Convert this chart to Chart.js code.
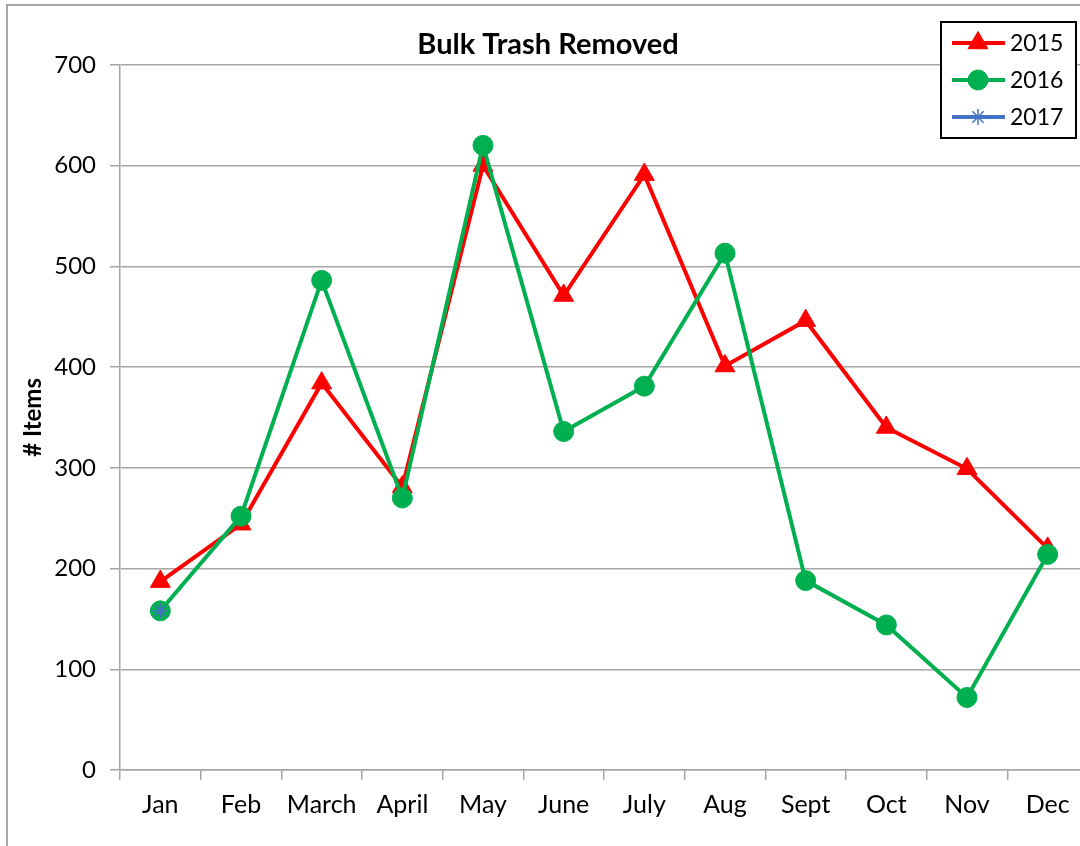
<!DOCTYPE html>
<html>
<head>
<meta charset="utf-8">
<script src="https://cdn.jsdelivr.net/npm/chart.js@4/dist/chart.umd.min.js"></script>
<style>
    html, body { margin: 0; padding: 0; background: #fff; overflow: hidden; width: 1080px; height: 846px; }
    #frame { position: absolute; left: 6px; top: 4px; width: 1084px; height: 880px; border: 2px solid #a6a6a6; background: #fff; }
    #frame canvas { display: block; }
</style>
</head>
<body>
<div id="frame"><canvas id="trashChart" width="1084" height="880"></canvas></div>
<script>
const months = ['Jan', 'Feb', 'March', 'April', 'May', 'June', 'July', 'Aug', 'Sept', 'Oct', 'Nov', 'Dec'];
const items2015 = [187, 244, 384, 281, 600, 471, 591, 401, 446, 340, 299, 220];
const items2016 = [158, 252, 486, 270, 620, 336, 381, 513, 188, 144, 72, 214];
const items2017 = [158, null, null, null, null, null, null, null, null, null, null, null];
const yTicks = [0, 100, 200, 300, 400, 500, 600, 700];

const FONT = 'Lato, "Open Sans", "Liberation Sans", sans-serif';
const GRID = '#a6a6a6';

// boxed legend in the top right corner, like the Excel one
const boxLegend = {
    id: 'boxLegend',
    afterDraw(chart) {
        const ctx = chart.ctx;
        const x0 = 933, y0 = 16, w = 135, h = 116;
        ctx.save();
        ctx.fillStyle = '#fff';
        ctx.fillRect(x0, y0, w, h);
        ctx.strokeStyle = '#000';
        ctx.lineWidth = 2;
        ctx.strokeRect(x0, y0, w, h);
        chart.data.datasets.forEach((ds, i) => {
            const y = y0 + 21 + i * 37;
            ctx.strokeStyle = ds.borderColor;
            ctx.lineWidth = 4;
            ctx.beginPath();
            ctx.moveTo(944, y);
            ctx.lineTo(997, y);
            ctx.stroke();
            ctx.fillStyle = ds.pointBackgroundColor;
            ctx.strokeStyle = ds.pointBorderColor;
            ctx.lineWidth = ds.pointBorderWidth;
            Chart.helpers.drawPoint(ctx, {
                pointStyle: ds.pointStyle,
                radius: ds.pointRadius,
                rotation: 0,
                borderWidth: ds.pointBorderWidth
            }, 970, y);
            ctx.fillStyle = '#000';
            ctx.font = '23px ' + FONT;
            ctx.textAlign = 'left';
            ctx.textBaseline = 'middle';
            ctx.fillText(ds.label, 1002, y + 1);
        });
        ctx.restore();
    }
};

new Chart(document.getElementById('trashChart'), {
    type: 'line',
    data: {
        labels: months,
        datasets: [
            {
                label: '2015', data: items2015, order: 3,
                borderColor: '#ff0000', borderWidth: 4,
                pointStyle: 'triangle', pointRadius: 11.5,
                pointBackgroundColor: '#ff0000', pointBorderColor: '#ff0000', pointBorderWidth: 1
            },
            {
                label: '2016', data: items2016, order: 2,
                borderColor: '#00b050', borderWidth: 4,
                pointStyle: 'circle', pointRadius: 10,
                pointBackgroundColor: '#00b050', pointBorderColor: '#00b050', pointBorderWidth: 1
            },
            {
                label: '2017', data: items2017, order: 1,
                borderColor: '#4472c4', borderWidth: 4,
                pointStyle: 'star', pointRadius: 8,
                pointBackgroundColor: '#4472c4', pointBorderColor: '#4472c4', pointBorderWidth: 1.5
            }
        ]
    },
    options: {
        responsive: false,
        animation: false,
        layout: { autoPadding: false, padding: { left: 0, right: 4, top: 0, bottom: 58 } },
        plugins: {
            legend: { display: false },
            tooltip: { enabled: false },
            title: {
                display: true,
                text: 'Bulk Trash Removed',
                color: '#000',
                font: { family: FONT, size: 29, weight: 'bold' },
                padding: { top: 21, bottom: 3 }
            }
        },
        scales: {
            x: {
                offset: true,
                grid: { display: true, drawOnChartArea: false, offset: true, tickLength: 10, color: GRID, lineWidth: 1.5 },
                border: { display: true, color: GRID, width: 1.5 },
                ticks: { color: '#000', font: { family: FONT, size: 25 }, padding: 10, maxRotation: 0, autoSkip: false },
                afterFit(scale) {
                    scale.height = 58;
                    scale.paddingLeft = 0;
                    scale.paddingRight = 0;
                }
            },
            y: {
                min: 0, max: 700,
                afterBuildTicks(scale) { scale.ticks = yTicks.map(v => ({ value: v })); },
                grid: { color: GRID, lineWidth: 1.5, tickLength: 10 },
                border: { display: true, color: GRID, width: 1.5 },
                ticks: { color: '#000', font: { family: FONT, size: 24 }, padding: 14 },
                title: {
                    display: true,
                    text: '# Items',
                    color: '#000',
                    font: { family: FONT, size: 24, weight: 'bold' },
                    padding: { top: 11, bottom: 0 }
                },
                afterFit(scale) {
                    scale.width = 112;
                    scale.paddingTop = 0;
                    scale.paddingBottom = 0;
                }
            }
        }
    },
    plugins: [boxLegend]
});
</script>
</body>
</html>
